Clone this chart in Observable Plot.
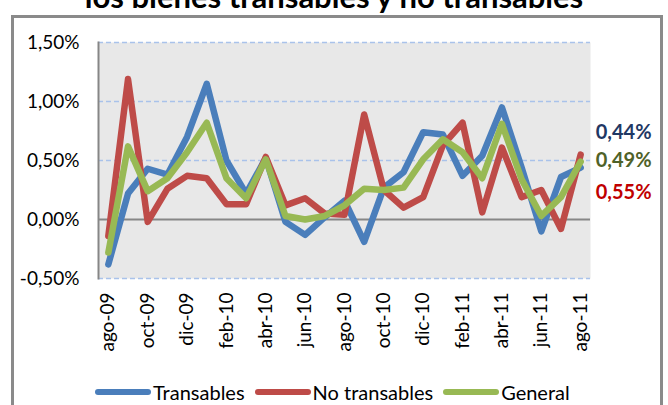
<!DOCTYPE html>
<html>
<head>
<meta charset="utf-8">
<script src="https://cdn.jsdelivr.net/npm/d3@7"></script>
<script src="https://cdn.jsdelivr.net/npm/@observablehq/plot@0.6"></script>
<style>
  body { margin: 0; background: #fff; font-family: Lato, sans-serif; }
  #wrap { position: relative; width: 668px; height: 405px; overflow: hidden; }
  #title { position: absolute; top: -19px; left: 0; width: 668px; text-align: center;
           font-weight: bold; font-size: 31px; line-height: 31px; color: #000; }
  #box { position: absolute; left: 11px; top: 15px; width: 646px; height: 400px; border: 3px solid #8a8a8a; }
  #chart { position: absolute; left: 0; top: 0; }
  #legend { position: absolute; left: 95px; top: 380px; display: flex; align-items: center;
            font-size: 20px; color: #000; }
  #legend span.sw { display: inline-block; width: 56px; height: 6px; border-radius: 3px; margin-right: 2px; }
  #legend span.lb { margin-right: 10px; }
</style>
</head>
<body>
<div id="wrap">
  <div id="title">los bienes transables y no transables</div>
  <div id="box"></div>
  <div id="chart"></div>
  <div id="legend"></div>
</div>
<script>
const months = ['ago-09','sep-09','oct-09','nov-09','dic-09','ene-10','feb-10','mar-10','abr-10',
  'may-10','jun-10','jul-10','ago-10','sep-10','oct-10','nov-10','dic-10','ene-11','feb-11',
  'mar-11','abr-11','may-11','jun-11','jul-11','ago-11']
const transables = [-0.38,0.22,0.43,0.38,0.70,1.15,0.50,0.22,0.52,-0.02,-0.13,0.02,0.16,
  -0.19,0.27,0.40,0.74,0.72,0.37,0.54,0.95,0.44,-0.10,0.36,0.44]
const noTransables = [-0.14,1.19,-0.02,0.26,0.37,0.35,0.13,0.13,0.53,0.12,0.18,0.05,0.04,
  0.89,0.25,0.10,0.19,0.63,0.82,0.06,0.61,0.19,0.25,-0.08,0.55]
const general = [-0.28,0.62,0.24,0.35,0.57,0.82,0.35,0.18,0.51,0.03,0.00,0.03,0.12,
  0.26,0.25,0.27,0.51,0.68,0.57,0.35,0.81,0.34,0.03,0.19,0.49]
const seriesNames = ['Transables', 'No transables', 'General']
const seriesColors = ['#4a7ebb', '#be4b48', '#98b954']
const yTicks = [-0.5, 0, 0.5, 1, 1.5]
const endLabels = ['0,44%', '0,49%', '0,55%']
const endColors = ['#1f3864', '#4f6228', '#c00000']

const fmt = d => d.toFixed(2).replace('.', ',') + '%'

// tabla larga para Plot
const rows = [transables, noTransables, general].flatMap((vals, s) =>
  vals.map((v, i) => ({mes: months[i], valor: v, serie: seriesNames[s]})))

const lastVals = [transables[24], general[24], noTransables[24]]
const labelShift = [-35, -1, 38]

const chart = Plot.plot({
  width: 668,
  height: 360,
  marginLeft: 98,
  marginRight: 78,
  marginTop: 42,
  marginBottom: 82,
  style: {fontFamily: 'Lato, sans-serif', fontSize: '19px', color: '#000', background: 'transparent'},
  // round: false, si no Plot redondea el paso a 19px y encoge el eje
  x: {type: 'point', domain: months, padding: 0.5, round: false, label: null},
  y: {domain: [-0.5, 1.5], label: null},
  color: {domain: seriesNames, range: seriesColors},
  marks: [
    Plot.frame({fill: '#e8e8e8', stroke: null}),
    Plot.ruleY(yTicks.filter(d => d !== 0), {stroke: '#a9c2ea', strokeWidth: 1.3, strokeDasharray: '5,3'}),
    Plot.ruleY([0], {stroke: '#868686', strokeWidth: 2}),
    Plot.frame({anchor: 'left', stroke: '#868686', strokeWidth: 2}),
    Plot.axisY({ticks: yTicks, tickFormat: fmt, tickSize: 0, tickPadding: 19, fontSize: 19}),
    Plot.axisX({ticks: months.filter((d, i) => i % 2 === 0), tickSize: 0, tickPadding: 14,
      tickRotate: -90, fontSize: 19}),
    Plot.line(rows, {x: 'mes', y: 'valor', z: 'serie', stroke: 'serie', strokeWidth: 6.5,
      strokeLinejoin: 'round', strokeLinecap: 'round'}),
    ...endLabels.map((t, k) => Plot.text([t], {
      x: () => months[24], y: () => lastVals[k], text: d => d,
      fill: endColors[k], dx: 15, dy: labelShift[k], textAnchor: 'start',
      fontWeight: 'bold', fontSize: 20
    }))
  ]
})
d3.select('#chart').append(() => chart)

const legend = d3.select('#legend')
seriesNames.forEach((s, k) => {
  legend.append('span').attr('class', 'sw').style('background', seriesColors[k])
  legend.append('span').attr('class', 'lb').text(s)
})
</script>
</body>
</html>
